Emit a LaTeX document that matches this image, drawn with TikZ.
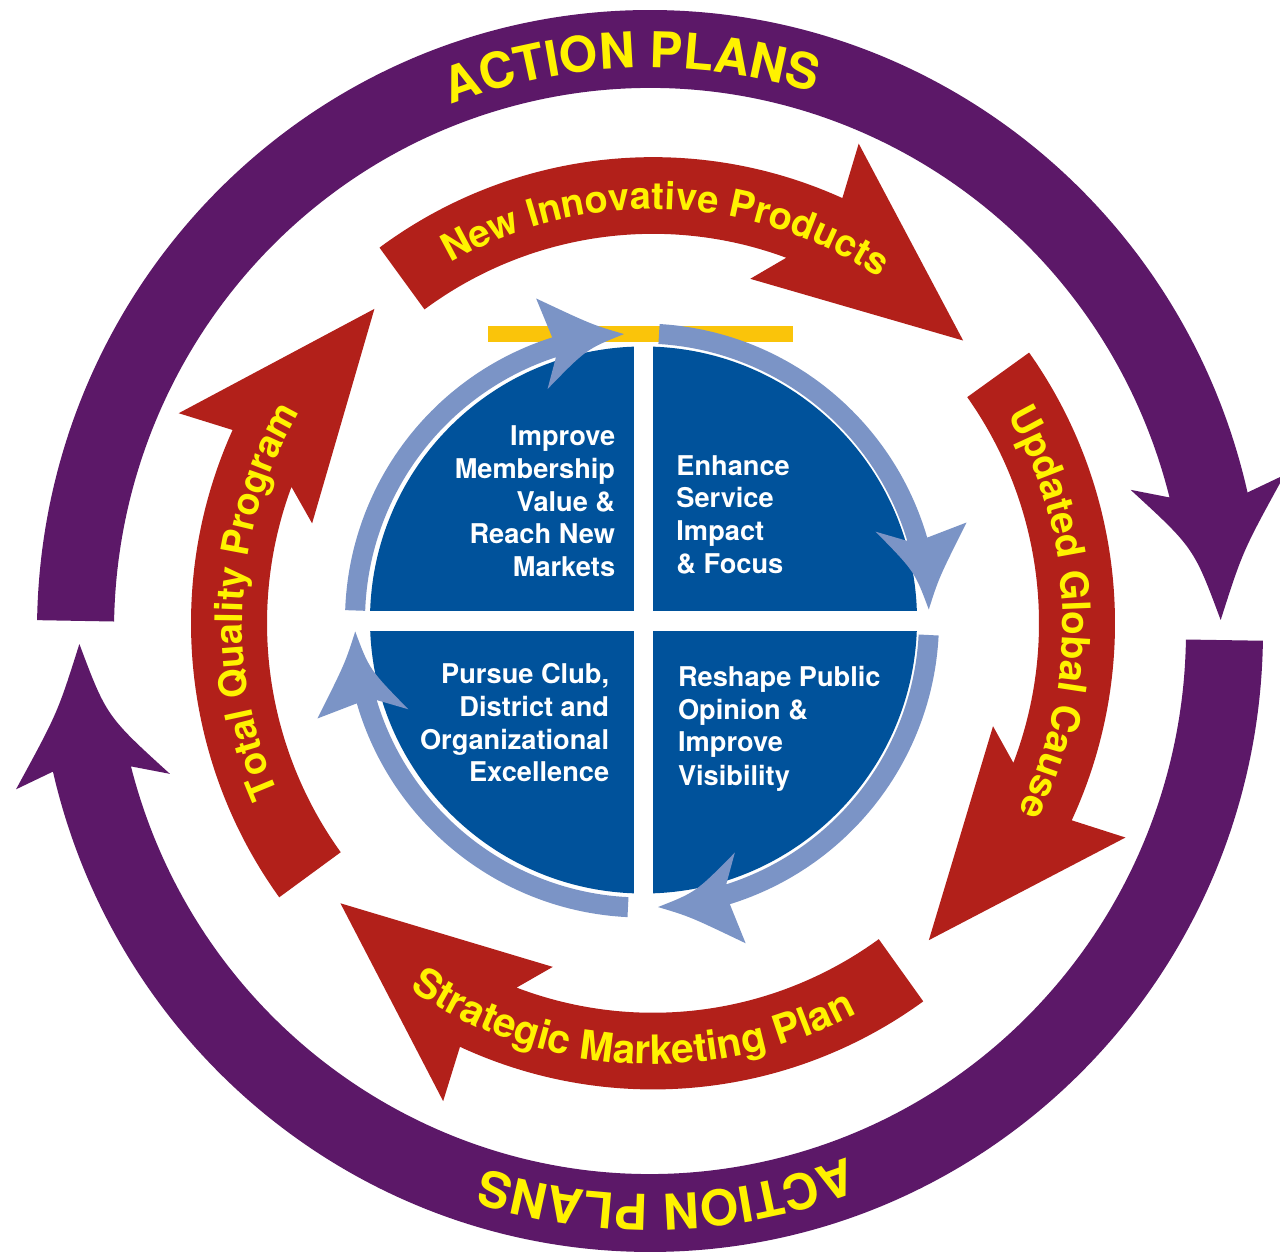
\documentclass[tikz,border=0pt]{standalone}
\usepackage{fontspec}
\setmainfont{TeX Gyre Heros}
\usetikzlibrary{decorations.text}
\definecolor{apurple}{RGB}{92,24,104}
\definecolor{ared}{RGB}{178,32,26}
\definecolor{ayellow}{RGB}{255,242,0}
\definecolor{ablue}{RGB}{0,82,155}
\definecolor{alblue}{RGB}{123,148,198}
\definecolor{abar}{RGB}{250,196,10}
\newcommand\APfont{\fontsize{24.7}{30}\selectfont\bfseries}
\newcommand\RTfont{\fontsize{19}{22}\selectfont\bfseries}
\newcommand\RTfontB{\fontsize{19.4}{22}\selectfont\bfseries}
\newcommand\RTfontC{\fontsize{20.2}{23}\selectfont\bfseries}
% purple arrow: #1 tail angle, #2 tip angle
\newcommand\PArrow[2]{%
 \fill[apurple] (#1:613) arc[start angle=#1, end angle={#2+11.8}, radius=613]
   -- ({#2+12.56}:653) .. controls ({#2+6.5}:598) .. (#2:570.8)
   .. controls ({#2+7.5}:550) .. ({#2+15.08}:500.4)
   -- ({#2+13.15}:536) arc[start angle={#2+13.15}, end angle=#1, radius=536] -- cycle;}
% red arrow: #1 tail angle
\newcommand\RArrow[1]{%
 \fill[ared] (#1:462) arc[start angle=#1, end angle={#1-60.5}, radius=462]
   -- ({#1-59.7}:518) -- ({#1-84.2}:418) -- ({#1-52.2}:355) -- ({#1-56.5}:386)
   arc[start angle={#1-56.5}, end angle=#1, radius=386] -- cycle;}
% light blue arrow: #1 start angle, #2 tip angle
\newcommand\LArrow[2]{%
 \fill[alblue] (#1:297) arc[start angle=#1, end angle={#2+14}, radius=297]
  -- ({#2+14.6}:339) .. controls ({#2+6}:300) .. (#2:287)
  .. controls ({#2+8}:277) .. ({#2+18.6}:250)
  -- ({#2+14.5}:277) arc[start angle={#2+14.5}, end angle=#1, radius=277] -- cycle;}
\begin{document}
\begin{tikzpicture}[x=0.5pt,y=0.5pt,
  qtext/.style={text=white, font=\fontsize{13.6}{16}\selectfont\bfseries, inner sep=0pt},
  ptext/.style={decorate, decoration={text along path, text align=center, text color=ayellow}}]
\useasboundingbox (0,0) rectangle (1280,1253);
\clip (0,0) rectangle (1280,1253);
\fill[white] (0,0) rectangle (1280,1253);
\coordinate (PC) at (650,622);
\coordinate (RC) at (653,629.7);
\coordinate (LC) at (642,632.5);
\coordinate (BC) at (643.5,633);

% purple outer ring
\begin{scope}[shift={(PC)}, yscale=1.013]
  \PArrow{179}{1.09}
  \PArrow{-0.9}{-178.71}
  \path[ptext, decoration={text={|\APfont|ACTION PLANS}}]
    (131.9:556) arc[start angle=131.9, end angle=51.9, radius=556];
  \path[ptext, decoration={text={|\APfont|ACTION PLANS}}]
    (-48.3:556) arc[start angle=-48.3, end angle=-128.3, radius=556];
\end{scope}

% red ring
\begin{scope}[shift={(RC)}, yscale=1.009]
  \RArrow{126.3}
  \RArrow{35.5}
  \RArrow{-54.2}
  \RArrow{-144}
  \path[ptext, decoration={text={|\RTfont|New Innovative Products}}]
    (133.1:410.4) arc[start angle=133.1, end angle=43.1, radius=410.4];
  \path[ptext, decoration={text={|\RTfontB|Updated Global Cause}}]
    (46.6:410) arc[start angle=46.6, end angle=-43.4, radius=410];
  \path[ptext, decoration={text={|\RTfontC|Strategic Marketing Plan}}]
    (-138:437) arc[start angle=-138, end angle=-48, radius=437];
  \path[ptext, decoration={text={|\RTfont|Total Quality Program}}]
    (221.75:410.4) arc[start angle=221.75, end angle=131.75, radius=410.4];
\end{scope}

% yellow bar
\fill[abar] (488,911) rectangle (793,927);

% blue disk with white cross
\fill[ablue] (BC) circle[radius=273.5];
\begin{scope}
  \clip (BC) circle[radius=276];
  \fill[white] (634,0) rectangle (652.7,1253);
  \fill[white] (0,622.3) rectangle (1280,642.3);
\end{scope}

% light blue cycle arrows
\begin{scope}[shift={(LC)}]
  \LArrow{178}{93.6}
  \LArrow{86.6}{2.2}
  \LArrow{-2.9}{-86.8}
  \LArrow{-92.8}{-177.8}
\end{scope}

% quadrant texts
\foreach \n/\y/\t in {1/807/Improve, 2/774.2/Membership, 3/741.6/{Value \&}, 4/709/{Reach New}, 5/676.7/Markets}
  \node[qtext, anchor=base east] (tl\n) at (615.5,\y) {\t};
\foreach \n/\y/\t in {1/777.5/Enhance, 2/745/Service, 3/712.3/Impact, 4/679.7/{\& Focus}}
  \node[qtext, anchor=base west] (tr\n) at (676,\y) {\t};
\foreach \n/\y/\t in {1/569/{Pursue Club,}, 2/536.3/{District and}, 3/503.6/Organizational, 4/471/Excellence}
  \node[qtext, anchor=base east] (bl\n) at (609.5,\y) {\t};
\foreach \n/\y/\t in {1/566.5/{Reshape Public}, 2/533.8/{Opinion \&}, 3/501.2/Improve, 4/467.7/Visibility}
  \node[qtext, anchor=base west] (br\n) at (677.6,\y) {\t};
\end{tikzpicture}
\end{document}
